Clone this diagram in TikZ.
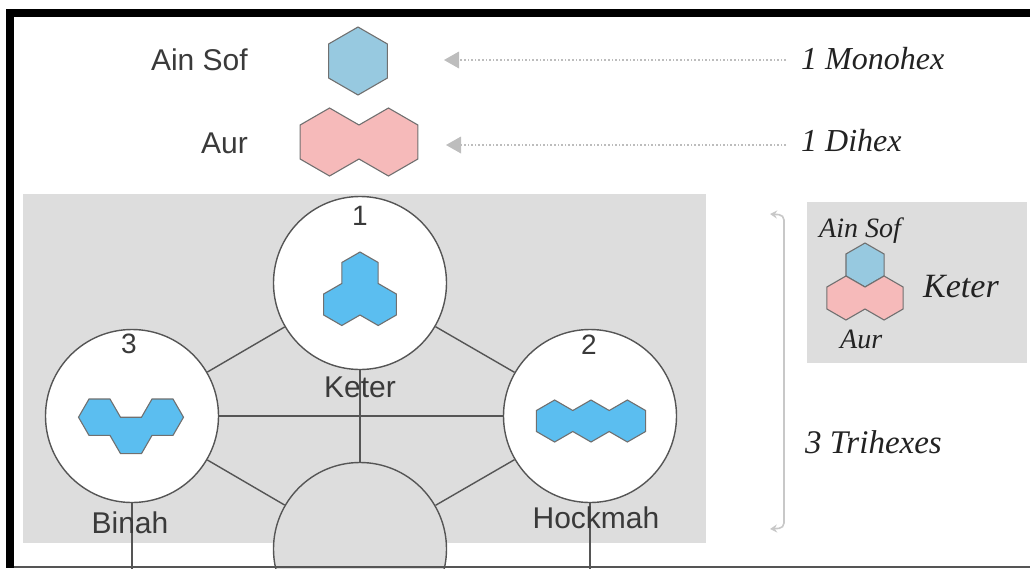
\documentclass[tikz,border=0pt]{standalone}
\usepackage{fontspec}
\newfontfamily\sansf{Liberation Sans}
\newfontfamily\scrf{Liberation Serif}
\usetikzlibrary{arrows.meta}
\definecolor{panel}{HTML}{DDDDDD}
\definecolor{linec}{HTML}{555555}
\definecolor{hexc}{HTML}{707070}
\definecolor{trib}{HTML}{5BBEF0}
\definecolor{lblue}{HTML}{97C9E0}
\definecolor{lpink}{HTML}{F6BABA}
\definecolor{arrc}{HTML}{BDBDBD}
\definecolor{brkc}{HTML}{C8C8C8}
\definecolor{txt}{HTML}{3A3A3A}
\definecolor{scrc}{HTML}{222222}
\begin{document}
\begin{tikzpicture}[x=1pt,y=-1pt,
  circ/.style={circle, draw=linec, line width=1.4pt, fill=white, minimum size=173pt, inner sep=0pt},
  conn/.style={draw=linec, line width=1.4pt},
  hexl/.style={draw=hexc, line width=1.1pt, line join=miter},
  lab/.style={font=\sansf\fontsize{30}{34}\selectfont, text=txt, inner sep=0pt},
  num/.style={font=\sansf\fontsize{28}{32}\selectfont, text=txt, inner sep=0pt, anchor=base},
  scr/.style={font=\scrf\fontsize{32}{36}\selectfont\itshape, text=scrc, inner sep=0pt, anchor=base west},
  scrs/.style={font=\scrf\fontsize{28}{32}\selectfont\itshape, text=scrc, inner sep=0pt, anchor=base west},
  dotarrow/.style={draw=arrc, line width=1.6pt, dotted, -{Triangle[length=15pt,width=17pt,fill=arrc,line width=0pt]}},
  brk/.style={draw=brkc, line width=1.6pt, rounded corners=5pt, {Stealth[length=7pt,width=8pt,fill=brkc]}-{Stealth[length=7pt,width=8pt,fill=brkc]}},
]
\useasboundingbox (0,0) rectangle (1030,568);
\clip (0,0) rectangle (1030,568);

% frame
\fill[black] (6,9) rectangle (1030,17);
\fill[black] (6,9) rectangle (14,568);

% panels
\fill[panel] (23,194) rectangle (706,543);
\fill[panel] (807,202) rectangle (1027,363);

% circles
\node[circ] (keter) at (360,283) {};
\node[circ] (binah) at (132,416) {};
\node[circ] (hock) at (590,416) {};
\node[circ, fill=panel] (malk) at (360,549) {};
\coordinate (bbot) at (132,580);
\coordinate (hbot) at (590,580);

% connectors
\draw[conn] (keter) -- (binah);
\draw[conn] (keter) -- (hock);
\draw[conn] (binah) -- (hock);
\draw[conn] (keter) -- (malk);
\draw[conn] (binah) -- (malk);
\draw[conn] (hock) -- (malk);
\draw[conn] (binah) -- (bbot);
\draw[conn] (hock) -- (hbot);

% Ain Sof monohex
\begin{scope}[shift={(358,61)}, scale=34]
  \draw[hexl, fill=lblue] (0,-1) -- (0.866,-0.5) -- (0.866,0.5) -- (0,1) -- (-0.866,0.5) -- (-0.866,-0.5) -- cycle;
\end{scope}
% Aur dihex
\begin{scope}[shift={(359,142)}, scale=34]
  \draw[hexl, fill=lpink] (-0.866,-1) -- (0,-0.5) -- (0.866,-1) -- (1.732,-0.5) -- (1.732,0.5) -- (0.866,1) -- (0,0.5) -- (-0.866,1) -- (-1.732,0.5) -- (-1.732,-0.5) -- cycle;
\end{scope}

% Keter trihex
\begin{scope}[shift={(360,273)}, scale=21]
  \draw[hexl, fill=trib] (0,-1) -- (0.866,-0.5) -- (0.866,0.5) -- (1.732,1) -- (1.732,2) -- (0.866,2.5) -- (0,2) -- (-0.866,2.5) -- (-1.732,2) -- (-1.732,1) -- (-0.866,0.5) -- (-0.866,-0.5) -- cycle;
\end{scope}
% Binah trihex
\begin{scope}[shift={(131,435.4)}, scale=21]
  \draw[hexl, fill=trib] (-2.5,-0.866) -- (-2,-1.732) -- (-1,-1.732) -- (-0.5,-0.866) -- (0.5,-0.866) -- (1,-1.732) -- (2,-1.732) -- (2.5,-0.866) -- (2,0) -- (1,0) -- (0.5,0.866) -- (-0.5,0.866) -- (-1,0) -- (-2,0) -- cycle;
\end{scope}
% Hockmah trihex
\begin{scope}[shift={(591,421)}, scale=21]
  \draw[hexl, fill=trib] (-2.598,-0.5) -- (-1.732,-1) -- (-0.866,-0.5) -- (0,-1) -- (0.866,-0.5) -- (1.732,-1) -- (2.598,-0.5) -- (2.598,0.5) -- (1.732,1) -- (0.866,0.5) -- (0,1) -- (-0.866,0.5) -- (-1.732,1) -- (-2.598,0.5) -- cycle;
\end{scope}

% right panel hexes
\begin{scope}[shift={(865,265)}, scale=22]
  \draw[hexl, fill=lblue] (0,-1) -- (0.866,-0.5) -- (0.866,0.5) -- (0,1) -- (-0.866,0.5) -- (-0.866,-0.5) -- cycle;
\end{scope}
\begin{scope}[shift={(865,298)}, scale=22]
  \draw[hexl, fill=lpink] (-0.866,-1) -- (0,-0.5) -- (0.866,-1) -- (1.732,-0.5) -- (1.732,0.5) -- (0.866,1) -- (0,0.5) -- (-0.866,1) -- (-1.732,0.5) -- (-1.732,-0.5) -- cycle;
\end{scope}

% circle texts
\node[num] (n1) at (360,225) {1};
\node[num] (n2) at (589,354) {2};
\node[num] (n3) at (129,353) {3};
\node[lab, anchor=base] (lketer) at (360,397) {Keter};
\node[lab, anchor=base] (lbinah) at (130,533) {Binah};
\node[lab, anchor=base] (lhock) at (596,528) {Hockmah};

% top labels
\node[lab, anchor=base east] (lain) at (248,70.7) {Ain Sof};
\node[lab, anchor=base east] (laur) at (248,153) {Aur};

% script labels
\node[scr] (mono) at (801,69) {1 Monohex};
\node[scr] (dihex) at (801,151) {1 Dihex};
\node[scr, font=\scrf\fontsize{33}{36}\selectfont\itshape] (trihex) at (805,453) {3 Trihexes};
\node[scrs] (sain) at (819,237) {Ain Sof};
\node[scrs] (saur) at (840,348) {Aur};
\node[scr, font=\scrf\fontsize{34}{38}\selectfont\itshape] (sketer) at (923,297) {Keter};

% dotted arrows
\coordinate (a1s) at (786,60);
\coordinate (a1e) at (444,60);
\coordinate (a2s) at (786,145);
\coordinate (a2e) at (446,145);
\draw[dotarrow] (a1s) -- (a1e);
\draw[dotarrow] (a2s) -- (a2e);

% bracket
\coordinate (bt1) at (770,214);
\coordinate (bt2) at (784,215);
\coordinate (bb2) at (784,528);
\coordinate (bb1) at (770,529);
\draw[brk] (bt1) -- (bt2) -- (bb2) -- (bb1);

% bottom line
\draw[linec, line width=2pt] (14,566.5) -- (1030,566.5);
\end{tikzpicture}
\end{document}
